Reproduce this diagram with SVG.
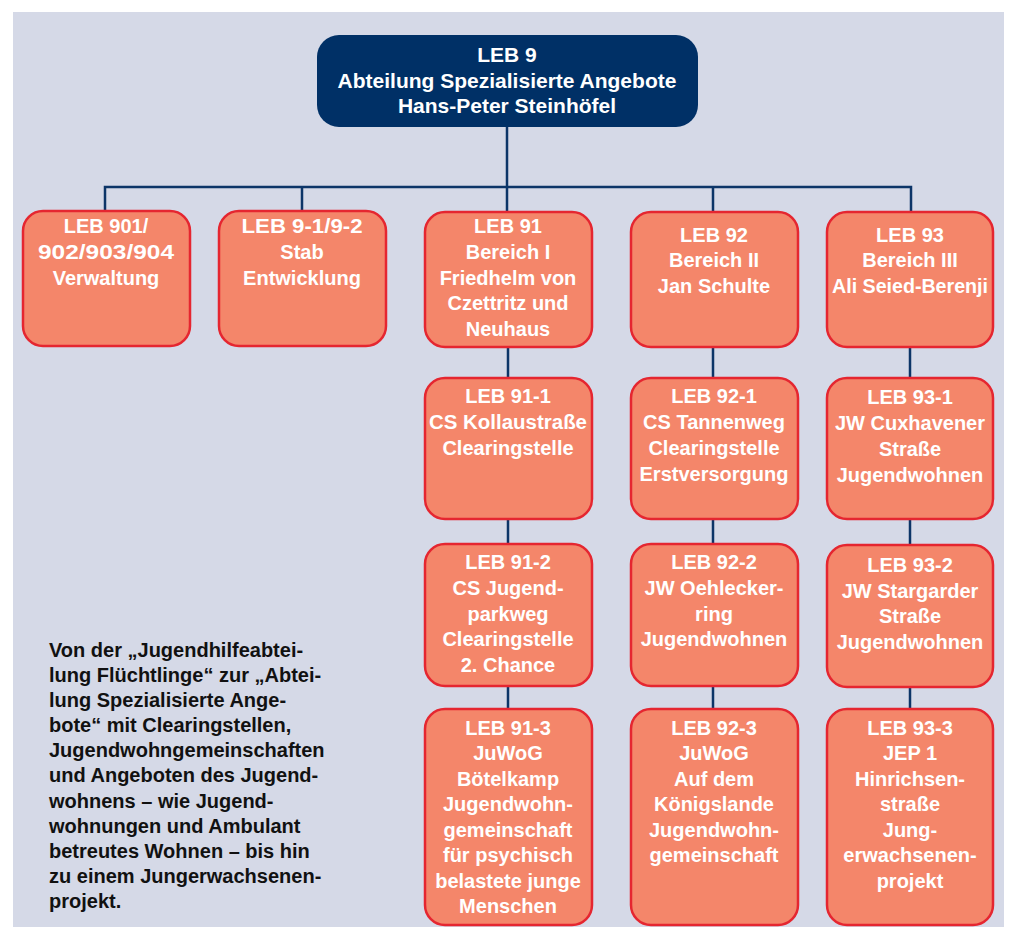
<svg xmlns="http://www.w3.org/2000/svg" width="1014" height="927" viewBox="0 0 1014 927">
<style>
.bg{fill:#d5d9e7}
.top{fill:#003066}
.box{fill:#f4866a;stroke:#e52630;stroke-width:2.5}
.t{font-family:"Liberation Sans",Arial,sans-serif;font-weight:bold;font-size:20px;fill:#ffffff;text-anchor:middle}
.tt{font-family:"Liberation Sans",Arial,sans-serif;font-weight:bold;font-size:21px;fill:#ffffff;text-anchor:middle}
.note{font-family:"Liberation Sans",Arial,sans-serif;font-weight:bold;font-size:20px;fill:#111111}
.c{fill:none;stroke:#0c3568;stroke-width:2.5}
</style>
<rect width="1014" height="927" fill="#ffffff"/>
<rect class="bg" x="13" y="12" width="991" height="915"/>
<g id="connectors">
<path class="c" d="M507,127V212M105,212V187H911V212M302,187V212M713,187V212"/>
<path class="c" d="M508,347V378M508,519V544M508,686V709"/>
<path class="c" d="M713,347V378M713,519V544M713,686V709"/>
<path class="c" d="M910,347V378M910,519V545M910,687V709"/>
</g>
<g id="leb9">
<rect class="top" x="317" y="35" width="381" height="92" rx="22"/>
<text class="tt" x="507" y="62">LEB 9</text>
<text class="tt" x="507" y="88">Abteilung Spezialisierte Angebote</text>
<text class="tt" x="507" y="113">Hans-Peter Steinhöfel</text>
</g>
<g id="leb901">
<rect class="box" x="23" y="211" width="167" height="135" rx="20"/>
<text class="t" x="106" y="233">LEB 901/</text>
<text class="t" x="106" y="259" textLength="136" lengthAdjust="spacingAndGlyphs">902/903/904</text>
<text class="t" x="106" y="285">Verwaltung</text>
</g>
<g id="leb91-92stab">
<rect class="box" x="219" y="211" width="167" height="135" rx="20"/>
<text class="t" x="302" y="233" textLength="121" lengthAdjust="spacingAndGlyphs">LEB 9-1/9-2</text>
<text class="t" x="302" y="259">Stab</text>
<text class="t" x="302" y="285">Entwicklung</text>
</g>
<g id="leb91">
<rect class="box" x="425" y="212" width="167" height="135" rx="20"/>
<text class="t" x="508" y="233">LEB 91</text>
<text class="t" x="508" y="259">Bereich I</text>
<text class="t" x="508" y="285">Friedhelm von</text>
<text class="t" x="508" y="310">Czettritz und</text>
<text class="t" x="508" y="336">Neuhaus</text>
</g>
<g id="leb92">
<rect class="box" x="631" y="212" width="167" height="135" rx="20"/>
<text class="t" x="714" y="242">LEB 92</text>
<text class="t" x="714" y="267">Bereich II</text>
<text class="t" x="714" y="293">Jan Schulte</text>
</g>
<g id="leb93">
<rect class="box" x="827" y="212" width="166" height="135" rx="20"/>
<text class="t" x="910" y="242">LEB 93</text>
<text class="t" x="910" y="267">Bereich III</text>
<text class="t" x="910" y="293" textLength="156" lengthAdjust="spacingAndGlyphs">Ali Seied-Berenji</text>
</g>
<g id="leb91-1">
<rect class="box" x="425" y="378" width="167" height="141" rx="20"/>
<text class="t" x="508" y="403">LEB 91-1</text>
<text class="t" x="508" y="429" textLength="158" lengthAdjust="spacingAndGlyphs">CS Kollaustraße</text>
<text class="t" x="508" y="455">Clearingstelle</text>
</g>
<g id="leb92-1">
<rect class="box" x="631" y="378" width="167" height="141" rx="20"/>
<text class="t" x="714" y="403">LEB 92-1</text>
<text class="t" x="714" y="429">CS Tannenweg</text>
<text class="t" x="714" y="455">Clearingstelle</text>
<text class="t" x="714" y="481">Erstversorgung</text>
</g>
<g id="leb93-1">
<rect class="box" x="827" y="378" width="166" height="141" rx="20"/>
<text class="t" x="910" y="404">LEB 93-1</text>
<text class="t" x="910" y="430">JW Cuxhavener</text>
<text class="t" x="910" y="456">Straße</text>
<text class="t" x="910" y="482">Jugendwohnen</text>
</g>
<g id="leb91-2">
<rect class="box" x="425" y="544" width="167" height="142" rx="20"/>
<text class="t" x="508" y="569">LEB 91-2</text>
<text class="t" x="508" y="595">CS Jugend-</text>
<text class="t" x="508" y="621">parkweg</text>
<text class="t" x="508" y="646">Clearingstelle</text>
<text class="t" x="508" y="672">2. Chance</text>
</g>
<g id="leb92-2">
<rect class="box" x="631" y="544" width="167" height="142" rx="20"/>
<text class="t" x="714" y="569">LEB 92-2</text>
<text class="t" x="714" y="595">JW Oehlecker-</text>
<text class="t" x="714" y="621">ring</text>
<text class="t" x="714" y="646">Jugendwohnen</text>
</g>
<g id="leb93-2">
<rect class="box" x="827" y="545" width="166" height="142" rx="20"/>
<text class="t" x="910" y="572">LEB 93-2</text>
<text class="t" x="910" y="598">JW Stargarder</text>
<text class="t" x="910" y="623">Straße</text>
<text class="t" x="910" y="649">Jugendwohnen</text>
</g>
<g id="leb91-3">
<rect class="box" x="425" y="709" width="167" height="216" rx="20"/>
<text class="t" x="508" y="735">LEB 91-3</text>
<text class="t" x="508" y="760">JuWoG</text>
<text class="t" x="508" y="786">Bötelkamp</text>
<text class="t" x="508" y="811">Jugendwohn-</text>
<text class="t" x="508" y="837">gemeinschaft</text>
<text class="t" x="508" y="862">für psychisch</text>
<text class="t" x="508" y="888">belastete junge</text>
<text class="t" x="508" y="913">Menschen</text>
</g>
<g id="leb92-3">
<rect class="box" x="631" y="709" width="167" height="216" rx="20"/>
<text class="t" x="714" y="735">LEB 92-3</text>
<text class="t" x="714" y="760">JuWoG</text>
<text class="t" x="714" y="786">Auf dem</text>
<text class="t" x="714" y="811">Königslande</text>
<text class="t" x="714" y="837">Jugendwohn-</text>
<text class="t" x="714" y="862">gemeinschaft</text>
</g>
<g id="leb93-3">
<rect class="box" x="827" y="709" width="166" height="216" rx="20"/>
<text class="t" x="910" y="735">LEB 93-3</text>
<text class="t" x="910" y="760">JEP 1</text>
<text class="t" x="910" y="786">Hinrichsen-</text>
<text class="t" x="910" y="811">straße</text>
<text class="t" x="910" y="837">Jung-</text>
<text class="t" x="910" y="862">erwachsenen-</text>
<text class="t" x="910" y="888">projekt</text>
</g>
<g id="note">
<text class="note" x="49" y="657">Von der „Jugendhilfeabtei-</text>
<text class="note" x="49" y="682">lung Flüchtlinge“ zur „Abtei-</text>
<text class="note" x="49" y="707">lung Spezialisierte Ange-</text>
<text class="note" x="49" y="732">bote“ mit Clearingstellen,</text>
<text class="note" x="49" y="757">Jugendwohngemeinschaften</text>
<text class="note" x="49" y="782">und Angeboten des Jugend-</text>
<text class="note" x="49" y="808">wohnens – wie Jugend-</text>
<text class="note" x="49" y="833">wohnungen und Ambulant</text>
<text class="note" x="49" y="858">betreutes Wohnen – bis hin</text>
<text class="note" x="49" y="883">zu einem Jungerwachsenen-</text>
<text class="note" x="49" y="908">projekt.</text>
</g>
</svg>
